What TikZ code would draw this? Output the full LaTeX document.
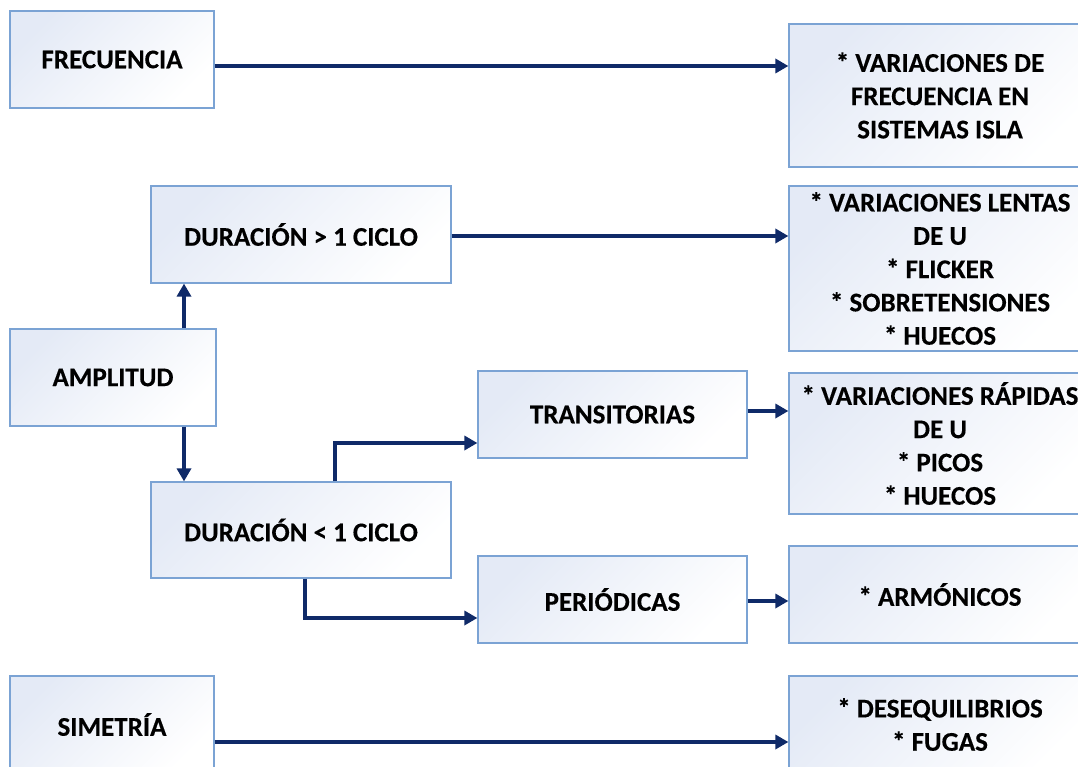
\documentclass[tikz,border=0pt]{standalone}
\usepackage{fontspec}
\setmainfont{Carlito}[BoldFeatures={FakeBold=0.3}]
\usetikzlibrary{arrows.meta}
\definecolor{boxedge}{HTML}{7BA3D4}
\definecolor{boxtint}{HTML}{E4EAF6}
\definecolor{navy}{HTML}{0F2A68}
\begin{document}
\begin{tikzpicture}[x=1pt,y=-1pt,
  box/.style={draw=boxedge, line width=1.2pt, top color=boxtint, bottom color=white,
    shading angle=45, inner sep=0pt, align=center,
    font=\fontsize{27}{33.3}\selectfont\bfseries},
  arr/.style={draw=navy, line width=4.5pt, -{Triangle[length=13pt,width=14pt]}}]
\useasboundingbox (0,0) rectangle (1078,767);
\clip (0,0) rectangle (1078,767);
% left column
\node[box, minimum width=204pt, minimum height=97pt] (frec) at (112,59.5) {FRECUENCIA};
\node[box, minimum width=206pt, minimum height=97pt] (ampl) at (113,377.5) {AMPLITUD};
\node[box, minimum width=204pt, minimum height=97pt] (sim) at (112,724.5) {SIMETRÍA};
% duration split
\node[box, minimum width=300pt, minimum height=97pt] (dmas) at (301,234.5) {DURACIÓN > 1 CICLO};
\node[box, minimum width=300pt, minimum height=96pt] (dmen) at (301,530) {DURACIÓN < 1 CICLO};
\node[box, minimum width=269pt, minimum height=87pt] (trans) at (612.5,414.5) {TRANSITORIAS};
\node[box, minimum width=269pt, minimum height=87pt] (per) at (612.5,599.5) {PERIÓDICAS};
% disturbance lists
\node[box, minimum width=302pt, minimum height=143pt] (o1) at (940,95.5)
  {* VARIACIONES DE\\FRECUENCIA EN\\SISTEMAS ISLA};
\node[box, minimum width=302pt, minimum height=165pt] (o2) at (940,268.5)
  {* VARIACIONES LENTAS\\DE U\\* FLICKER\\* SOBRETENSIONES\\* HUECOS};
\node[box, minimum width=302pt, minimum height=141pt] (o3) at (940,443.5)
  {* VARIACIONES RÁPIDAS\\DE U\\* PICOS\\* HUECOS};
\node[box, minimum width=302pt, minimum height=97pt] (o4) at (940,594.5) {* ARMÓNICOS};
\node[box, minimum width=302pt, minimum height=97pt] (o5) at (940,724.5)
  {* DESEQUILIBRIOS\\* FUGAS};
% connectors
\draw[arr] (frec.east |- 0,66) -- (o1.west |- 0,66);
\draw[arr] (dmas.east |- 0,236) -- (o2.west |- 0,236);
\draw[arr] (ampl.north -| 184,0) -- (dmas.south -| 184,0);
\draw[arr] (ampl.south -| 184,0) -- (dmen.north -| 184,0);
\coordinate (k1) at (335,443);
\coordinate (k2) at (305,618);
\draw[arr] (dmen.north -| k1) -- (k1) -- (trans.west |- k1);
\draw[arr] (dmen.south -| k2) -- (k2) -- (per.west |- k2);
\draw[arr] (trans.east |- 0,411) -- (o3.west |- 0,411);
\draw[arr] (per.east |- 0,601) -- (o4.west |- 0,601);
\draw[arr] (sim.east |- 0,742) -- (o5.west |- 0,742);
\end{tikzpicture}
\end{document}
